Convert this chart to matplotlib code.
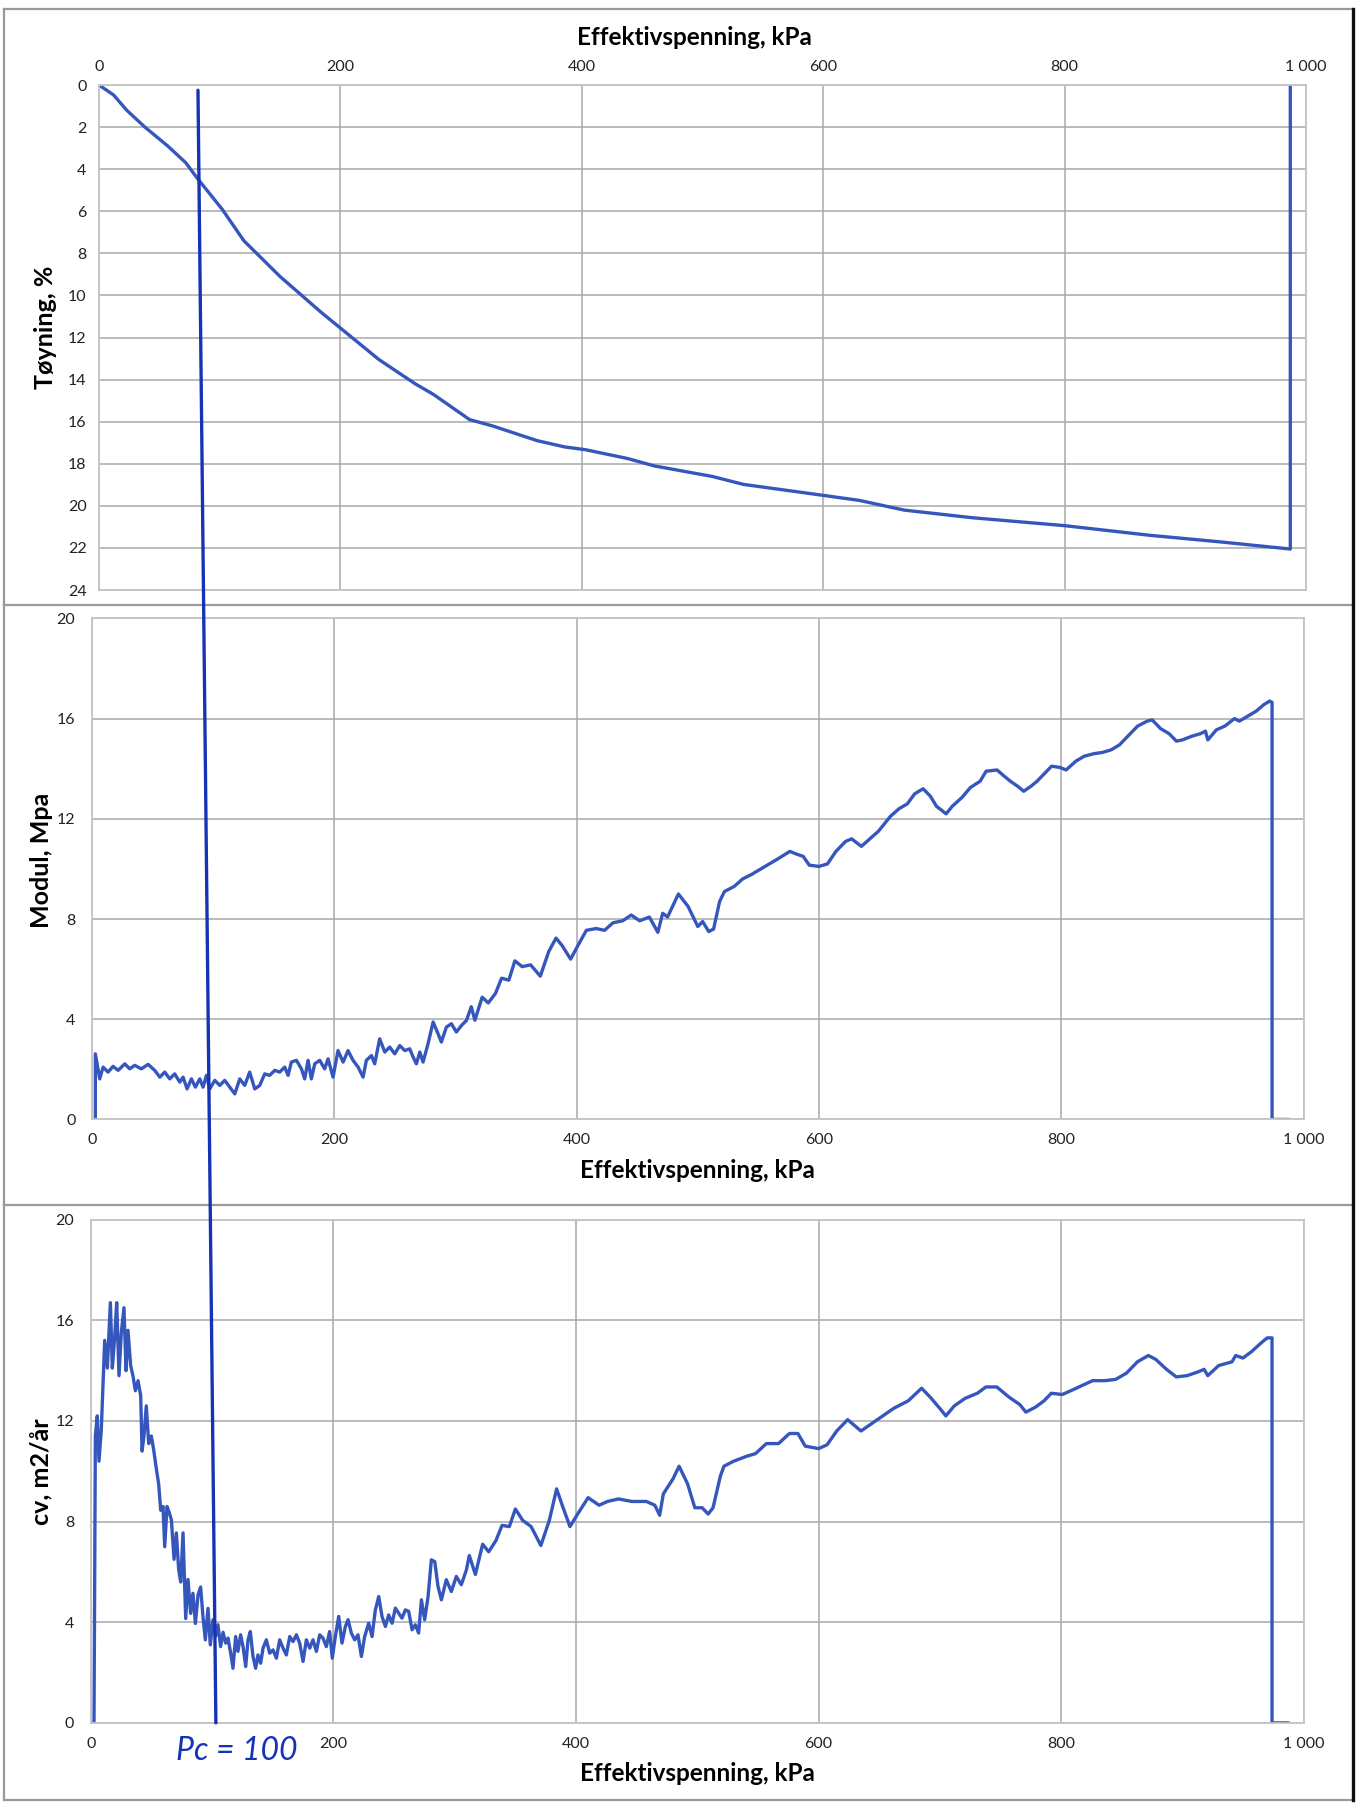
# oedometer test: strain, modulus and cv vs effective stress, three stacked panels

import matplotlib
matplotlib.use("Agg")
import matplotlib.pyplot as plt
from matplotlib import ticker
from matplotlib.lines import Line2D
from matplotlib.patches import ConnectionPatch

plt.rcParams["font.family"] = ["Lato", "DejaVu Sans"]

# strain (%) vs effective stress (kPa)
strain_x = [0, 12, 23, 38, 57, 72, 81, 102, 120, 150, 184, 200, 232, 262, 277, 307,
            326, 363, 386, 403, 438, 460, 508, 534, 600, 630, 667, 723, 800, 871,
            927, 987, 987]
strain_y = [0, 0.47, 1.2, 2.0, 2.9, 3.7, 4.4, 5.9, 7.4, 9.1, 10.8, 11.55, 13.05, 14.2,
            14.7, 15.9, 16.2, 16.9, 17.2, 17.33, 17.75, 18.1, 18.6, 18.98, 19.5, 19.74,
            20.2, 20.56, 20.94, 21.4, 21.7, 22.05, 0.1]

# modulus (MPa) vs effective stress, (kPa, MPa) pairs
modul_pts = [
    (2.7, 0), (2.7, 2.62), (6.3, 1.62), (9.1, 2.09), (13.2, 1.89), (17.3, 2.12),
    (21.5, 1.96), (27, 2.22), (31.1, 2.02), (35.2, 2.16), (40.7, 2.02), (46.2, 2.2),
    (51.7, 1.96), (55.9, 1.69), (60, 1.89), (64.1, 1.62), (68.2, 1.82), (72.4, 1.49),
    (75.1, 1.69), (78.4, 1.22), (82, 1.62), (85.3, 1.29), (88.9, 1.62), (91.6, 1.29),
    (94.4, 1.76), (97.1, 1.22), (101.3, 1.56), (105.4, 1.36), (109.5, 1.56),
    (113.6, 1.29), (117.8, 1.02), (121.9, 1.62), (126, 1.36), (130.1, 1.89),
    (134.3, 1.22), (138.4, 1.36), (142.5, 1.82), (146.6, 1.76), (150.8, 1.96),
    (154.9, 1.89), (159, 2.09), (161.8, 1.76), (164.5, 2.29), (168.7, 2.36),
    (172.8, 2.02), (175.5, 1.62), (178.3, 2.36), (181, 1.62), (183.8, 2.22),
    (187.9, 2.36), (192, 2.02), (194.8, 2.42), (198.9, 1.69), (203, 2.75),
    (207.2, 2.29), (211.3, 2.75), (215.4, 2.36), (219.6, 2.09), (223.7, 1.69),
    (226.4, 2.36), (230.6, 2.55), (233.3, 2.22), (237.4, 3.22), (241.6, 2.69),
    (245.7, 2.89), (249.8, 2.62), (254, 2.95), (258.1, 2.75), (262.2, 2.82),
    (265, 2.49), (267.7, 2.22), (270.5, 2.69), (273.2, 2.29), (277.3, 3.02),
    (281.5, 3.89), (285.6, 3.42), (288.3, 3.09), (292.5, 3.69), (296.6, 3.82),
    (300.7, 3.49), (304.9, 3.75), (309, 3.95), (313, 4.5),
    (316, 3.96), (322, 4.88), (327, 4.65), (333, 5.03), (338, 5.64), (344, 5.56),
    (349, 6.33), (355, 6.1), (362, 6.17), (370, 5.72), (377, 6.71), (383, 7.24),
    (388, 6.94), (395, 6.4), (401, 6.94), (408, 7.55), (416, 7.62), (423, 7.55),
    (430, 7.85), (438, 7.93), (445, 8.16), (452, 7.93), (460, 8.08), (467, 7.47),
    (471, 8.23), (475, 8.08), (484, 9.0), (492, 8.5), (500, 7.7), (504, 7.9),
    (509, 7.5), (513, 7.6), (518, 8.7), (522, 9.1), (530, 9.3), (537, 9.6),
    (544, 9.77), (552, 10.0), (559, 10.2), (566, 10.4), (576, 10.7), (581, 10.6),
    (587, 10.5), (592, 10.15), (600, 10.1), (607, 10.2), (614, 10.7), (622, 11.1),
    (627, 11.2), (635, 10.9), (642, 11.2), (649, 11.5), (659, 12.1), (666, 12.4),
    (673, 12.6), (679, 13.0), (686, 13.2), (692, 12.9), (697, 12.5), (705, 12.2),
    (710, 12.5), (718, 12.85), (725, 13.25), (733, 13.5), (738, 13.9), (747, 13.95),
    (753, 13.7), (758, 13.5), (764, 13.3), (769, 13.1), (775, 13.3), (780, 13.5),
    (786, 13.8), (792, 14.1), (799, 14.05), (804, 13.95), (812, 14.3), (819, 14.5),
    (827, 14.6), (834, 14.65), (841, 14.75), (848, 14.95), (856, 15.35), (863, 15.7),
    (871, 15.9), (875, 15.95), (882, 15.6), (889, 15.4), (895, 15.1), (900, 15.15),
    (908, 15.3), (915, 15.4), (919, 15.5), (921, 15.15), (928, 15.55), (935, 15.7),
    (943, 16.0), (947, 15.9), (954, 16.1), (961, 16.3), (967, 16.55), (972, 16.7),
    (974, 16.65), (974, 0), (987, 0),
]

# cv (m2/year) vs effective stress
cv_pts = [
    (2.5, 0), (3.6, 11.4), (5.2, 12.2), (6.6, 10.4), (8.5, 11.65), (11.3, 15.2),
    (13.5, 14.1), (16, 16.7), (17.6, 14.1), (19.5, 15.3), (21.2, 16.7), (23.1, 13.8),
    (25, 15.5), (27.2, 16.5), (28.9, 14.0), (30.5, 15.6), (32.7, 14.2), (34.6, 13.8),
    (36.6, 13.2), (38.8, 13.6), (41, 13.0), (42.1, 10.8), (43.7, 11.4), (45.6, 12.6),
    (47.6, 11.1), (49.8, 11.4), (51.7, 10.85), (53.9, 10.1), (55.8, 9.5), (57.5, 8.45),
    (59.4, 8.6), (60.8, 7.0), (62.7, 8.6), (64.9, 8.3), (66.3, 8.07), (68.5, 6.5),
    (70.4, 7.55), (72.3, 6.1), (74, 5.6), (75.9, 7.55), (78.1, 4.15), (80, 5.7),
    (82.2, 4.35), (84.1, 5.15), (86.1, 3.95), (88.3, 5.1), (90.4, 5.4), (92.4, 4.2),
    (94.3, 3.3), (96.5, 4.55), (98.4, 3.1), (100.6, 4.1), (102.8, 3.45), (104.7, 3.9),
    (106.9, 3.03), (108.9, 3.6), (111.1, 3.17), (113, 3.37), (115.2, 2.77),
    (117.1, 2.17), (119.3, 3.43), (121.2, 2.84), (123.4, 3.5), (125.4, 3.03),
    (127.6, 2.24), (129.5, 3.3), (131.4, 3.63), (133.6, 2.64), (135.8, 2.17),
    (137.7, 2.7), (139.9, 2.37), (141.9, 2.97), (144.6, 3.3), (147.4, 2.77),
    (150.1, 2.9), (152.9, 2.57), (155.6, 3.3), (158.4, 2.97), (161.1, 2.7),
    (163.9, 3.43), (166.6, 3.23), (169.4, 3.5), (172.1, 3.17), (174.9, 2.44),
    (177.6, 3.3), (180.4, 2.97), (183.1, 3.3), (185.9, 2.84), (188.6, 3.5),
    (191.3, 3.37), (194.1, 3.03), (196.8, 3.63), (199, 2.57), (201.5, 3.43),
    (204.3, 4.23), (207, 3.17), (209.8, 3.83), (212, 4.1), (214.7, 3.57), (217.5, 3.3),
    (220.2, 3.5), (223, 2.64), (225.7, 3.43), (229, 3.96), (231.8, 3.43), (234.5, 4.49),
    (237.3, 5.02), (240, 4.23), (242.8, 3.83), (245.5, 4.29), (248.3, 3.96),
    (251, 4.56), (253.8, 4.36), (256.5, 4.16), (259.3, 4.49), (262, 4.43), (264.8, 3.7),
    (267.5, 3.9), (270.2, 3.57), (272.5, 4.89), (275.2, 4.1), (278, 5.02),
    (280.7, 6.48), (283.5, 6.41), (286.2, 5.42), (289, 4.89), (293, 5.69),
    (297.2, 5.22), (301.3, 5.82), (305.4, 5.49), (309.6, 6.08),
    (312, 6.65), (317, 5.9), (323, 7.1), (328, 6.8), (334, 7.25), (339, 7.85),
    (345, 7.8), (350, 8.5), (356, 8.05), (363, 7.8), (371, 7.05), (378, 8.05),
    (384, 9.3), (389, 8.6), (395, 7.8), (402, 8.35), (410, 8.95), (419, 8.65),
    (426, 8.8), (435, 8.9), (446, 8.8), (458, 8.8), (465, 8.65), (469, 8.25),
    (472, 9.1), (480, 9.7), (485, 10.2), (492, 9.5), (498, 8.55), (504, 8.55),
    (509, 8.3), (513, 8.55), (519, 9.8), (522, 10.2), (530, 10.4), (541, 10.6),
    (548, 10.7), (557, 11.1), (567, 11.1), (576, 11.5), (583, 11.5), (589, 11.0),
    (600, 10.9), (607, 11.05), (615, 11.6), (624, 12.05), (635, 11.6), (644, 11.9),
    (653, 12.2), (662, 12.5), (674, 12.8), (685, 13.3), (692, 12.95), (700, 12.5),
    (705, 12.2), (712, 12.6), (721, 12.9), (731, 13.1), (738, 13.35), (747, 13.35),
    (757, 12.95), (766, 12.65), (771, 12.35), (779, 12.55), (786, 12.8), (792, 13.1),
    (801, 13.05), (808, 13.2), (817, 13.4), (826, 13.6), (836, 13.6), (845, 13.65),
    (854, 13.9), (863, 14.35), (872, 14.6), (878, 14.45), (887, 14.05), (895, 13.75),
    (904, 13.8), (913, 13.95), (918, 14.05), (921, 13.8), (930, 14.2), (941, 14.35),
    (944, 14.6), (950, 14.5), (957, 14.75), (965, 15.1), (970, 15.3), (974, 15.3),
    (974, 0), (987, 0),
]

# hand drawn preconsolidation line (top point in strain panel, bottom point in cv panel)
pc_top = (82, 0.25)
pc_bottom = (103, 0)
pc_text = "Pc = 100"

x_ticks = [0, 200, 400, 600, 800, 1000]
xlabel = "Effektivspenning, kPa"

line_col = "#3557bd"
pen_col = "#1633b5"
grid_col = "#a8a8a8"


def thousands(v, pos):
    return f"{int(v):,}".replace(",", " ")


fig = plt.figure(figsize=(13.6, 18.05), dpi=100)
ax1 = fig.add_axes([0.0728, 0.6731, 0.8875, 0.2798])
ax2 = fig.add_axes([0.0677, 0.3798, 0.8908, 0.2776])
ax3 = fig.add_axes([0.0669, 0.0455, 0.8916, 0.2788])

for ax in (ax1, ax2, ax3):
    ax.set_xlim(0, 1000)
    ax.set_xticks(x_ticks)
    ax.xaxis.set_major_formatter(ticker.FuncFormatter(thousands))
    ax.grid(True, color=grid_col, linewidth=1.1)
    ax.set_axisbelow(True)
    ax.tick_params(length=0, labelsize=11.5, labelcolor="#222222")
    for sp in ax.spines.values():
        sp.set_color("#c4c4c4")
        sp.set_linewidth(1.3)

# top: strain
ax1.plot(strain_x, strain_y, color=line_col, linewidth=2.4)
ax1.set_ylim(24, 0)
ax1.set_yticks(range(0, 25, 2))
ax1.xaxis.tick_top()
ax1.xaxis.set_label_position("top")
ax1.tick_params(axis="x", pad=8)
ax1.tick_params(axis="y", pad=9)
ax1.set_xlabel(xlabel, fontsize=17.5, fontweight="bold", va="center")
ax1.xaxis.set_label_coords(0.493, 1.095)
ax1.set_ylabel("Tøyning, %", fontsize=18, fontweight="bold", va="center")
ax1.yaxis.set_label_coords(-0.044, 0.52)

# middle: modulus
mx, my = zip(*modul_pts)
ax2.plot(mx, my, color=line_col, linewidth=2.4)
ax2.set_ylim(0, 20)
ax2.set_yticks(range(0, 21, 4))
ax2.tick_params(axis="x", pad=10)
ax2.tick_params(axis="y", pad=12)
ax2.set_xlabel(xlabel, fontsize=17.5, fontweight="bold", va="center")
ax2.xaxis.set_label_coords(0.5, -0.102)
ax2.set_ylabel("Modul, Mpa", fontsize=18, fontweight="bold", va="center")
ax2.yaxis.set_label_coords(-0.042, 0.517)

# bottom: cv
cx, cy = zip(*cv_pts)
ax3.plot(cx, cy, color=line_col, linewidth=2.4)
ax3.set_ylim(0, 20)
ax3.set_yticks(range(0, 21, 4))
ax3.tick_params(axis="x", pad=10)
ax3.tick_params(axis="y", pad=12)
ax3.set_xlabel(xlabel, fontsize=17.5, fontweight="bold", va="center")
ax3.xaxis.set_label_coords(0.5, -0.1)
ax3.set_ylabel("cv, m2/år", fontsize=18, fontweight="bold", va="center")
ax3.yaxis.set_label_coords(-0.041, 0.5)

# pen line across all three panels
con = ConnectionPatch(xyA=pc_top, coordsA="data", axesA=ax1,
                      xyB=pc_bottom, coordsB="data", axesB=ax3,
                      color=pen_col, linewidth=2.4, zorder=10)
fig.add_artist(con)
ax3.text(120, -1.1, pc_text, color=pen_col, fontsize=23, style="italic",
         ha="center", va="center", clip_on=False)

# scanned page frame around the panels
frame = dict(transform=fig.transFigure, color="#9a9a9a", linewidth=1.6)
for yf in (1 - 9 / 1805, 1 - 605 / 1805, 1 - 1205 / 1805, 1 - 1800 / 1805):
    fig.add_artist(Line2D([4 / 1360, 1353 / 1360], [yf, yf], **frame))
fig.add_artist(Line2D([4 / 1360, 4 / 1360], [1 - 9 / 1805, 1 - 1800 / 1805], **frame))
fig.add_artist(Line2D([1353 / 1360, 1353 / 1360], [1 - 9 / 1805, 1 - 1800 / 1805],
                      transform=fig.transFigure, color="#111111", linewidth=2.4))

fig.savefig("out.png", dpi=100)
print("Saved fig to out.png")
